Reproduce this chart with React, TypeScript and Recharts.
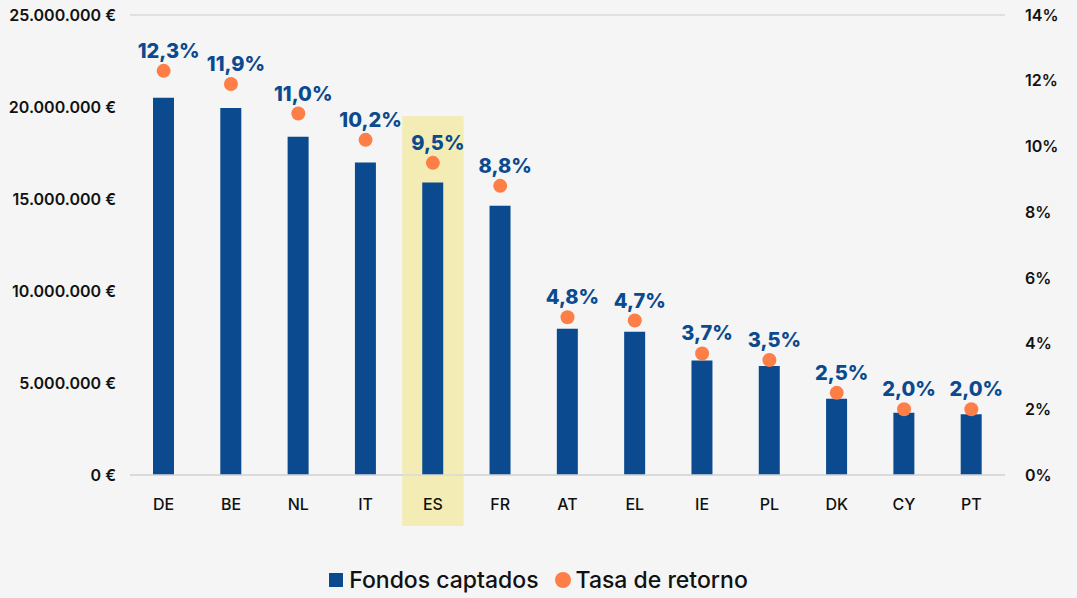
import React from 'react';
import { ComposedChart, Bar, Line, XAxis, YAxis, CartesianGrid, Legend, LabelList, ReferenceArea } from 'recharts';

const countries = ['DE', 'BE', 'NL', 'IT', 'ES', 'FR', 'AT', 'EL', 'IE', 'PL', 'DK', 'CY', 'PT'];
const funds = [20500000, 19950000, 18380000, 16980000, 15900000, 14630000, 7950000, 7780000, 6220000, 5930000, 4140000, 3380000, 3300000];
const rates = [12.3, 11.9, 11.0, 10.2, 9.5, 8.8, 4.8, 4.7, 3.7, 3.5, 2.5, 2.0, 2.0];
const leftTicks = [0, 5000000, 10000000, 15000000, 20000000, 25000000];
const rightTicks = [0, 2, 4, 6, 8, 10, 12, 14];
const highlighted = 'ES';

const data = countries.map((c, i) => ({ country: c, funds: funds[i], rate: rates[i] }));

const BLUE = '#0b4a8e';
const ORANGE = '#fd7f47';
const FONT = 'Inter, "Liberation Sans", sans-serif';

const fmtEuro = (v: number) => `${v.toLocaleString('de-DE')} €`;
const fmtPct = (v: number) => `${v.toFixed(1).replace('.', ',')}%`;

const HighlightShape = (props: any) => {
  const { x, y, width, height } = props;
  return <rect x={x + 3} y={y} width={width - 6} height={height + 51} fill="#f3edb5" />;
};

const RateLabel = (props: any) => {
  const { x, y, value } = props;
  return (
    <text x={x + 5} y={y - 13} textAnchor="middle" fill={BLUE} fontSize={20} fontWeight={800} fontFamily={FONT}>
      {fmtPct(value)}
    </text>
  );
};

const LegendContent = () => (
  <div style={{ height: 50, display: 'flex', alignItems: 'flex-end', justifyContent: 'center', fontFamily: FONT, fontSize: 23, fontWeight: 500, color: '#111' }}>
    <div style={{ display: 'flex', alignItems: 'center', height: 26 }}>
      <span style={{ display: 'inline-block', width: 14, height: 14, background: BLUE, marginRight: 6 }} />
      <span style={{ marginRight: 16 }}>Fondos captados</span>
      <span style={{ display: 'inline-block', width: 16, height: 16, borderRadius: '50%', background: ORANGE, marginRight: 5 }} />
      <span>Tasa de retorno</span>
    </div>
  </div>
);

export default function App() {
  return (
    <div style={{ position: 'absolute', left: 0, top: 0, width: 1077, height: 598, background: '#f5f5f5' }}>
      <ComposedChart width={1077} height={598} data={data} margin={{ top: 15, right: 0, bottom: 5, left: 0 }}>
        <CartesianGrid vertical={false} stroke="#d9d9d9" strokeWidth={1.5} />
        <ReferenceArea
          x1={highlighted}
          x2={highlighted}
          y1={0}
          y2={19500000}
          yAxisId="left"
          ifOverflow="visible"
          shape={<HighlightShape />}
        />
        <XAxis
          dataKey="country"
          height={68}
          tickLine={false}
          axisLine={{ stroke: '#d9d9d9', strokeWidth: 1.5 }}
          tickMargin={18}
          tick={{ fill: '#111', fontSize: 16, fontWeight: 500, fontFamily: FONT }}
        />
        <YAxis
          yAxisId="left"
          width={130}
          domain={[0, 25000000]}
          ticks={leftTicks}
          tickFormatter={fmtEuro}
          axisLine={false}
          tickLine={false}
          tickMargin={8}
          tick={{ fill: '#111', fontSize: 16, fontWeight: 600, fontFamily: FONT }}
        />
        <YAxis
          yAxisId="right"
          orientation="right"
          width={72}
          domain={[0, 14]}
          ticks={rightTicks}
          tickFormatter={(v: number) => `${v}%`}
          axisLine={false}
          tickLine={false}
          tickMargin={14}
          tick={{ fill: '#111', fontSize: 16, fontWeight: 600, fontFamily: FONT }}
        />
        <Bar yAxisId="left" dataKey="funds" name="Fondos captados" fill={BLUE} barSize={21} isAnimationActive={false} />
        <Line
          yAxisId="right"
          dataKey="rate"
          name="Tasa de retorno"
          stroke="none"
          dot={{ r: 7, fill: ORANGE, stroke: 'none' }}
          activeDot={false}
          isAnimationActive={false}
        >
          <LabelList dataKey="rate" content={<RateLabel />} />
        </Line>
        <Legend verticalAlign="bottom" content={<LegendContent />} />
      </ComposedChart>
    </div>
  );
}
